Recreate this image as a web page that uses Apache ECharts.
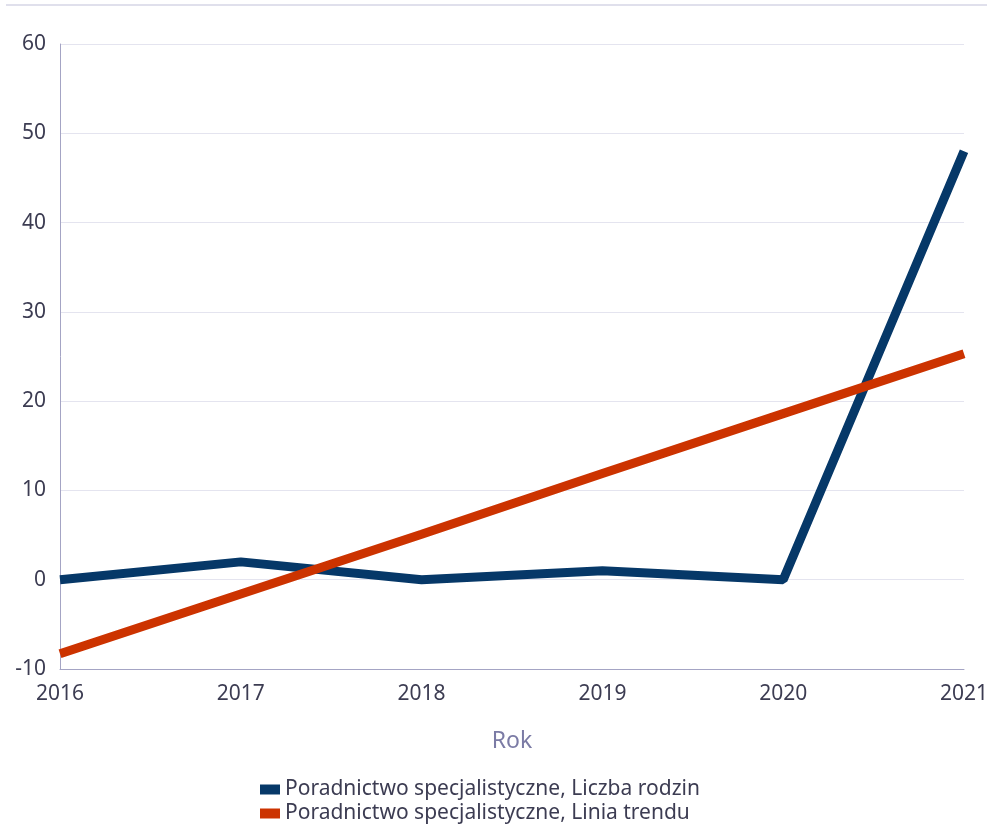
<!DOCTYPE html>
<html>
<head>
<meta charset="utf-8">
<script src="https://cdn.jsdelivr.net/npm/echarts@6/dist/echarts.min.js"></script>
<style>
  html, body { margin: 0; padding: 0; background: #fff; }
  #chart { width: 987px; height: 828px; }
</style>
</head>
<body>
<div id="chart"></div>
<script>
// lata
const years = ['2016', '2017', '2018', '2019', '2020', '2021']
// Poradnictwo specjalistyczne, Liczba rodzin
const liczbaRodzin = [0, 2, 0, 1, 0, 48]
// Poradnictwo specjalistyczne, Linia trendu
const liniaTrendu = [-8.3, -1.6, 5.1, 11.9, 18.6, 25.3]

const textColor = '#3c3c52'
const fontFamily = 'Noto Sans'

const chart = echarts.init(document.getElementById('chart'))
chart.setOption({
  animation: false,
  textStyle: { fontFamily: fontFamily },
  graphic: [{
    type: 'line',
    shape: { x1: 6, y1: 5, x2: 987, y2: 5 },
    style: { stroke: '#e0e0ec', lineWidth: 2 }
  }],
  grid: {
    left: 60,
    right: 23,
    top: 44,
    bottom: 159,
    outerBoundsMode: 'none'
  },
  legend: {
    orient: 'vertical',
    left: 260,
    top: 779,
    padding: 0,
    itemWidth: 20,
    itemHeight: 10,
    itemGap: 3,
    icon: 'rect',
    textStyle: { color: textColor, fontSize: 21, fontFamily: fontFamily },
    data: ['Poradnictwo specjalistyczne, Liczba rodzin', 'Poradnictwo specjalistyczne, Linia trendu']
  },
  xAxis: {
    type: 'category',
    data: years,
    boundaryGap: false,
    name: 'Rok',
    nameLocation: 'middle',
    nameGap: 61,
    nameTextStyle: { color: '#7b7ba5', fontSize: 23, fontFamily: fontFamily },
    axisLine: { onZero: false, lineStyle: { color: '#a4a4c4', width: 1 } },
    axisTick: { show: false },
    axisLabel: { color: textColor, fontSize: 21, margin: 15 },
    splitLine: { show: false }
  },
  yAxis: {
    type: 'value',
    min: -10,
    max: 60,
    interval: 10,
    axisLine: { show: true, lineStyle: { color: '#a4a4c4', width: 1 } },
    axisTick: { show: false },
    axisLabel: { color: textColor, fontSize: 21, margin: 14 },
    splitLine: { lineStyle: { color: '#e4e4ef', width: 1 } }
  },
  series: [{
    name: 'Poradnictwo specjalistyczne, Liczba rodzin',
    type: 'line',
    data: liczbaRodzin,
    symbol: 'none',
    itemStyle: { color: '#063868' },
    lineStyle: { color: '#063868', width: 9 }
  }, {
    name: 'Poradnictwo specjalistyczne, Linia trendu',
    type: 'line',
    data: liniaTrendu,
    symbol: 'none',
    itemStyle: { color: '#cc3300' },
    lineStyle: { color: '#cc3300', width: 9 }
  }]
})
</script>
</body>
</html>
